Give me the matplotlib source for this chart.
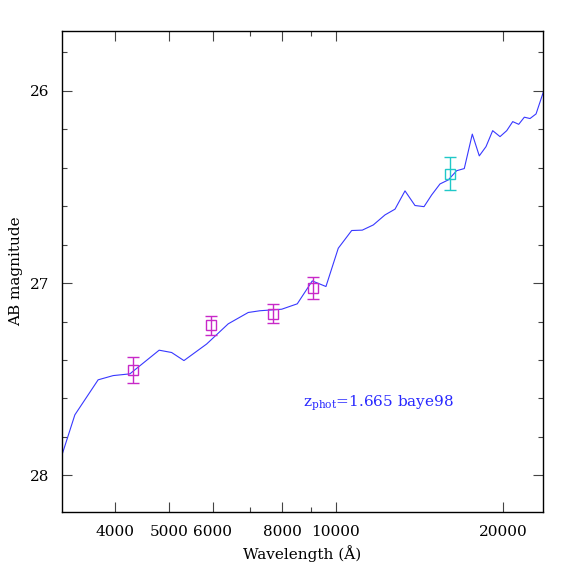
import numpy as np
import matplotlib
matplotlib.use('Agg')
import matplotlib.pyplot as plt
from matplotlib.ticker import FixedLocator, NullFormatter, MultipleLocator

plt.rcParams['mathtext.fontset'] = 'dejavuserif'

# template SED (observed wavelength in Angstrom, AB mag)
sed_wave = [3180, 3386, 3729, 3969, 4254, 4803, 5058, 5323, 5848, 6396,
            6950, 7295, 7985, 8517, 9064, 9593, 10096, 10673, 11154, 11674,
            12253, 12774, 13315, 13878, 14407, 14872, 15394, 15932, 16499, 17026,
            17601, 18119, 18631, 19154, 19747, 20303, 20816, 21340, 21842, 22362,
            22929, 23572, 23800]
sed_mag = [27.93, 27.685, 27.503, 27.481, 27.472, 27.349, 27.361, 27.403, 27.317, 27.212,
           27.153, 27.144, 27.136, 27.108, 26.989, 27.018, 26.819, 26.727, 26.725, 26.698,
           26.646, 26.616, 26.521, 26.597, 26.603, 26.542, 26.485, 26.464, 26.416, 26.405,
           26.226, 26.339, 26.291, 26.208, 26.239, 26.208, 26.161, 26.175, 26.138, 26.145,
           26.121, 26.017, 25.98]

# photometry
opt_wave = [4313, 5954, 7708, 9078]
opt_mag = [27.451, 27.22, 27.16, 27.027]
opt_err = [0.069, 0.05, 0.05, 0.057]

ir_wave = [16070]
ir_mag = [26.431]
ir_err = [0.088]

x_major = [4000, 5000, 6000, 8000, 10000, 20000]
x_minor = [7000, 9000]

fig = plt.figure(figsize=(5.74, 5.74), dpi=100)
ax = fig.add_axes([0.108, 0.108, 0.838, 0.838])

ax.plot(sed_wave, sed_mag, color='#3838ff', lw=0.8)

ax.errorbar(opt_wave, opt_mag, yerr=opt_err, fmt='s', mfc='none', mec='#c828c8',
            ecolor='#c828c8', ms=7, mew=1.0, elinewidth=1.0, capsize=4.5, capthick=1.2)
ax.errorbar(ir_wave, ir_mag, yerr=ir_err, fmt='s', mfc='none', mec='#20c8c8',
            ecolor='#20c8c8', ms=7, mew=1.0, elinewidth=1.0, capsize=4.5, capthick=1.2)

ax.set_xscale('log')
ax.set_xlim(3210, 23600)
ax.set_ylim(28.19, 25.69)

ax.xaxis.set_major_locator(FixedLocator(x_major))
ax.xaxis.set_minor_locator(FixedLocator(x_minor))
ax.xaxis.set_minor_formatter(NullFormatter())
ax.set_xticklabels([str(v) for v in x_major])
ax.yaxis.set_major_locator(FixedLocator([26, 27, 28]))
ax.yaxis.set_minor_locator(MultipleLocator(0.2))

ax.tick_params(which='both', direction='in', top=True, right=True,
               labelsize=11, width=0.8, color='#444444')
ax.tick_params(which='major', length=7, pad=9)
ax.tick_params(which='minor', length=3.5)
for lab in ax.get_xticklabels() + ax.get_yticklabels():
    lab.set_family('DejaVu Serif')

for sp in ax.spines.values():
    sp.set_linewidth(1.0)

ax.set_xlabel('Wavelength (Å)', family='DejaVu Serif', fontsize=11, labelpad=5)
ax.set_ylabel('AB magnitude', family='DejaVu Serif', fontsize=11, labelpad=5)

ax.text(0.501, 0.22, r'z$_{\rm phot}$=1.665 baye98', transform=ax.transAxes,
        color='#2828ff', family='DejaVu Serif', fontsize=11)

fig.savefig('out.png', dpi=100)
